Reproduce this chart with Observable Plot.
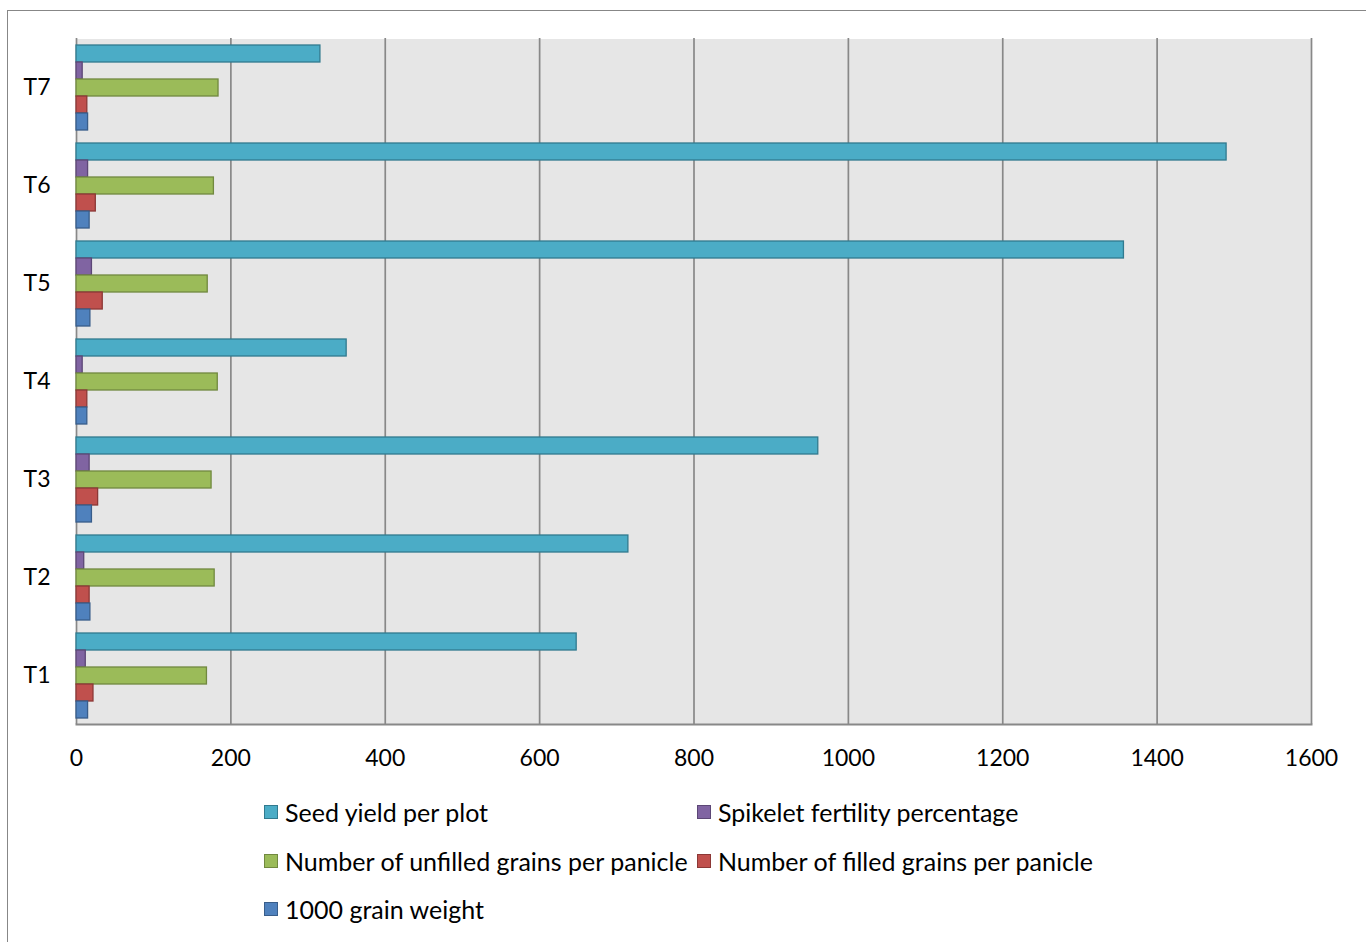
<!DOCTYPE html>
<html>
<head>
<meta charset="utf-8">
<script src="https://cdn.jsdelivr.net/npm/d3@7"></script>
<script src="https://cdn.jsdelivr.net/npm/@observablehq/plot@0.6"></script>
<style>
  html, body { margin: 0; padding: 0; background: #fff; }
  #wrap { position: relative; width: 1366px; height: 942px; overflow: hidden; font-family: Lato, sans-serif; }
  #border { position: absolute; left: 7px; top: 10px; width: 1400px; height: 1000px;
            border-left: 1.5px solid #878787; border-top: 1.5px solid #878787; }
  #chart { position: absolute; left: 0; top: 0; }
  .lg { position: absolute; display: flex; align-items: center; font-size: 25px; color: #000; white-space: nowrap; }
  .sw { width: 12px; height: 12px; border: 1.5px solid; margin-right: 7px; }
</style>
</head>
<body>
<div id="wrap">
  <div id="border"></div>
  <div id="chart"></div>
  <div id="legend"></div>
</div>
<script>
const categories = ["T1", "T2", "T3", "T4", "T5", "T6", "T7"];
const seriesNames = [
  "Seed yield per plot",
  "Spikelet fertility percentage",
  "Number of unfilled grains per panicle",
  "Number of filled grains per panicle",
  "1000 grain weight"
];
const seedYield   = [648, 715, 961, 350, 1357, 1490, 316];
const spikelet    = [12, 10, 17, 8, 20, 15, 8];
const unfilled    = [169, 179, 175, 183, 170, 178, 184];
const filled      = [22, 17, 28, 14, 34, 25, 14];
const grainWeight = [15, 18, 20, 14, 18, 17, 15];
const xTicks = [0, 200, 400, 600, 800, 1000, 1200, 1400, 1600];

const fills   = ["#4bacc6", "#8064a2", "#9bbb59", "#c0504d", "#4f81bd"];
const strokes = ["#317a8f", "#5c4776", "#71893f", "#8c3836", "#385d8a"];

const seriesValues = [seedYield, spikelet, unfilled, filled, grainWeight];
const rows = [];
categories.forEach((c, i) => {
  seriesNames.forEach((s, j) => rows.push({cat: c, series: s, value: seriesValues[j][i]}));
});

const plot = Plot.plot({
  width: 1366,
  height: 790,
  marginLeft: 76,
  marginRight: 55,
  marginTop: 38,
  marginBottom: 66,
  style: {fontFamily: "Lato, sans-serif", fontSize: "23px", color: "#000", background: "transparent"},
  x: {domain: [0, 1600], ticks: xTicks, tickFormat: d => String(d), tickSize: 0, tickPadding: 25, label: null},
  y: {domain: seriesNames, paddingInner: 0, paddingOuter: 0.35, axis: null},
  fy: {domain: categories.slice().reverse(), padding: 0, axis: "left", tickSize: 0, tickPadding: 26, label: null},
  marks: [
    Plot.frame({fill: "#e6e6e6", stroke: null, shapeRendering: "crispEdges"}),
    Plot.gridX(xTicks, {stroke: "#888888", strokeOpacity: 1, strokeWidth: 1.7}),
    Plot.frame({anchor: "bottom", stroke: "#888888", strokeWidth: 2, facetAnchor: "bottom"}),
    ...seriesNames.map((s, j) => Plot.barX(rows.filter(r => r.series === s), {
      x: "value", y: "series", fy: "cat",
      fill: fills[j], stroke: strokes[j], strokeWidth: 1.3
    }))
  ]
});
document.getElementById("chart").appendChild(plot);

const legendPos = [
  {left: 264, top: 812}, {left: 697, top: 812},
  {left: 264, top: 861}, {left: 697, top: 861},
  {left: 264, top: 909}
];
const lg = document.getElementById("legend");
seriesNames.forEach((s, j) => {
  const d = document.createElement("div");
  d.className = "lg";
  d.style.left = legendPos[j].left + "px";
  d.style.top = (legendPos[j].top - 15) + "px";
  d.style.height = "30px";
  const sw = document.createElement("div");
  sw.className = "sw";
  sw.style.background = fills[j];
  sw.style.borderColor = strokes[j];
  d.appendChild(sw);
  const t = document.createElement("span");
  t.textContent = s;
  d.appendChild(t);
  lg.appendChild(d);
});
</script>
</body>
</html>
